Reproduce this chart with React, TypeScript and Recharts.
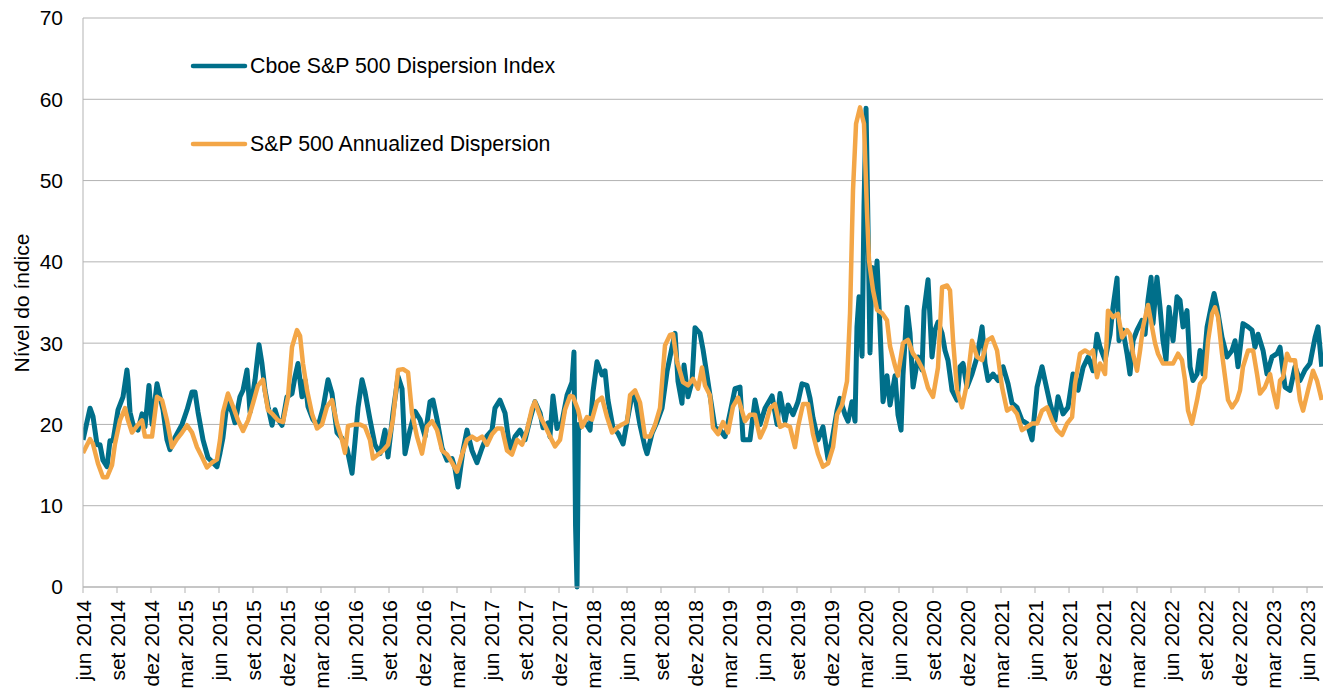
import React from 'react';
import { LineChart, Line, XAxis, YAxis, CartesianGrid, Legend } from 'recharts';

// x = months since June 2014, y = index level
const cboeDispersionIndex: [number, number][] = [
  [0,18.1],[0.62,22],[0.88,21],[1.24,17.5],[1.5,17.5],[1.76,15.6],[2.12,14.8],[2.38,18],[2.65,18],[3.09,21.8],[3.53,23.4],[3.88,26.7],[3.97,25.5],[4.15,21.5],[4.41,20],[4.85,19.3],[5.21,21.3],[5.47,19.7],[5.65,22.2],[5.82,24.8],[6.09,20],[6.53,25],[6.79,23.4],[7.06,21.8],[7.41,18.1],[7.68,16.9],[8.12,18.4],[8.74,20],[9.18,21.8],[9.62,24],[9.88,24],[10.15,21.5],[10.59,18.1],[11.03,15.9],[11.47,15.3],[11.82,14.8],[12.09,16.5],[12.35,18.4],[12.71,22.7],[13.15,21.5],[13.41,20.2],[13.85,23.4],[14.12,24.2],[14.47,26.7],[14.74,21.5],[15.18,25.5],[15.53,29.8],[15.79,27.5],[16.06,24.2],[16.32,22.2],[16.68,19.9],[16.94,21.8],[17.21,20.6],[17.56,19.9],[18.0,23.4],[18.44,23.8],[18.71,25.9],[18.97,27.5],[19.32,23.4],[19.59,25.5],[19.85,22.2],[20.29,20.6],[20.74,19.8],[21.18,22],[21.62,25.5],[21.97,23.8],[22.41,19],[22.85,18.3],[23.3,17],[23.74,14],[24.0,17.9],[24.27,22.1],[24.62,25.5],[24.88,24],[25.32,20.6],[25.76,17.5],[26.21,16.4],[26.65,19.3],[26.91,16],[27.35,21.4],[27.8,25.9],[28.15,24.4],[28.41,16.4],[28.85,19.3],[29.3,21.6],[29.74,20.6],[30.18,18.5],[30.62,22.8],[30.88,23],[31.24,20.6],[31.68,17.1],[32.12,15.6],[32.56,15.8],[32.82,14.6],[33.09,12.3],[33.53,16.8],[33.88,19.3],[34.32,16.8],[34.76,15.3],[35.21,17.1],[35.65,18.6],[36.09,19.3],[36.35,22],[36.79,23],[37.24,21.4],[37.68,16.8],[38.12,18.5],[38.56,19.3],[39.0,18.1],[39.44,20.6],[39.88,22.8],[40.33,21.4],[40.59,19.6],[41.03,20.2],[41.2,18.5],[41.47,23.5],[41.82,19.5],[42.26,20.3],[42.71,23.6],[43.15,25.2],[43.32,28.9],[43.46,7.5],[43.59,0],[43.72,20],[43.85,19.6],[44.29,20.3],[44.74,19.3],[45.0,24],[45.35,27.7],[45.79,26.1],[46.06,26.6],[46.32,23],[46.76,19.6],[47.21,18.9],[47.65,17.6],[48.0,20.3],[48.44,23.6],[48.71,23.4],[49.15,19.9],[49.59,17.2],[49.77,16.4],[50.21,18.9],[50.65,20.3],[51.09,22],[51.53,26.5],[51.97,29.5],[52.24,31.2],[52.5,25.3],[52.85,22.6],[53.03,27.3],[53.38,23.4],[53.74,25.3],[54.0,31.9],[54.44,31.2],[54.71,29.2],[55.06,26],[55.32,23.6],[55.76,19.6],[56.21,19.3],[56.65,18.5],[57.09,21.4],[57.53,24.4],[57.97,24.6],[58.24,18.1],[58.85,18.1],[59.29,23],[59.74,20],[60.18,22],[60.8,23.5],[61.24,20],[61.5,23.8],[61.94,20.4],[62.21,22.4],[62.65,21.2],[63.09,22.8],[63.44,25],[63.88,24.8],[64.15,23.2],[64.41,20.8],[64.85,18.1],[65.29,19.7],[65.74,15.7],[66.09,18.1],[66.53,21.7],[66.79,23.2],[67.24,21.2],[67.5,20.4],[67.85,22.8],[68.12,20.4],[68.29,32],[68.47,35.7],[68.74,28.4],[68.91,46.8],[69.09,58.9],[69.27,44],[69.44,28.8],[69.62,39.3],[69.88,35.7],[70.06,40.1],[70.32,32],[70.59,22.8],[70.94,26],[71.21,22.4],[71.65,26],[71.91,21.2],[72.18,19.3],[72.35,26],[72.71,34.4],[72.97,31.2],[73.24,24.6],[73.68,28.3],[74.03,26.7],[74.21,34],[74.56,37.8],[74.91,28.3],[75.18,31.6],[75.44,32.6],[75.8,31.2],[76.06,29.1],[76.32,27.9],[76.68,24.2],[77.12,23],[77.38,27.1],[77.65,27.5],[78.0,24.6],[78.44,26.2],[78.89,28.3],[79.33,32],[79.59,27.5],[79.86,25.4],[80.3,26.2],[80.74,25.4],[81.18,27.1],[81.62,25],[81.97,22.6],[82.41,22.1],[82.85,20.5],[83.3,20.1],[83.74,18.1],[84.18,24.6],[84.62,27.1],[84.88,25.4],[85.32,22.6],[85.76,20.5],[86.03,23.4],[86.47,21.3],[86.91,22.1],[87.35,26.2],[87.8,24.2],[88.24,27],[88.68,28.3],[89.12,26.6],[89.47,31.1],[89.74,29.5],[90.18,27.9],[90.62,31.1],[90.88,34.4],[91.24,38],[91.41,30.3],[91.76,31.6],[92.12,28.7],[92.38,26.2],[92.65,30.3],[93.0,31.6],[93.44,32.8],[93.71,31.1],[93.97,35.3],[94.24,38.1],[94.41,32.4],[94.76,38.1],[95.03,34.4],[95.29,30.3],[95.56,27.9],[95.82,34.4],[96.18,30.3],[96.53,35.7],[96.79,35.3],[97.06,32],[97.41,34],[97.68,27.1],[97.94,25.4],[98.3,26.2],[98.56,29.1],[98.82,26.2],[99.18,32],[99.53,34.4],[99.8,36.1],[100.06,34.4],[100.5,30.7],[100.94,28.3],[101.38,29.1],[101.65,30.3],[101.91,27.1],[102.35,32.4],[102.8,32],[103.15,31.6],[103.41,29.5],[103.68,31.1],[104.12,29.1],[104.47,26.2],[104.91,28.3],[105.35,28.7],[105.62,29.5],[106.06,24.6],[106.5,24.2],[106.94,27.1],[107.38,25.4],[107.82,26.7],[108.26,27.5],[108.71,30.7],[108.97,32],[109.3,27.1]
];

const sp500AnnualizedDispersion: [number, number][] = [
  [0,16.5],[0.62,18.2],[0.88,17.6],[1.32,15.2],[1.76,13.5],[2.12,13.5],[2.56,15],[2.82,17.6],[3.26,20.5],[3.71,22],[3.97,20.5],[4.32,19],[4.76,19.8],[5.21,20.5],[5.47,18.5],[6.09,18.5],[6.53,23.4],[6.97,23],[7.41,20.5],[7.85,17.2],[8.29,18.2],[8.74,19],[9.18,19.9],[9.62,19],[10.06,17.2],[10.5,16],[10.94,14.7],[11.38,15.3],[11.82,15.7],[12.09,18.1],[12.35,21.5],[12.79,23.8],[13.24,22.2],[13.68,20.5],[14.12,19.2],[14.56,20.5],[15.0,22.6],[15.44,24.8],[15.88,25.5],[16.32,21.8],[16.77,21.2],[17.21,20.5],[17.65,20.3],[18.09,23.4],[18.44,29.5],[18.88,31.6],[19.15,30.9],[19.41,27.5],[19.77,24.2],[20.21,21.3],[20.65,19.5],[21.09,20],[21.53,22.2],[21.97,23],[22.41,20.1],[22.85,18.1],[23.12,16.5],[23.38,19.8],[24.0,20],[24.44,20],[24.88,19.7],[25.32,18.1],[25.59,15.8],[26.03,16.3],[26.47,16.8],[26.91,17.5],[27.35,20.6],[27.8,26.7],[28.24,26.8],[28.68,26.4],[29.03,21.4],[29.47,18.5],[29.91,16.4],[30.35,19.7],[30.8,20.4],[31.24,19.3],[31.68,16.8],[32.12,16.3],[32.56,15.3],[33.0,14.2],[33.44,16.3],[33.88,18.1],[34.32,18.5],[34.76,18.1],[35.21,18.5],[35.65,17.5],[36.09,18.8],[36.53,19.5],[36.97,19.5],[37.41,16.8],[37.85,16.3],[38.3,18.1],[38.74,17.5],[39.18,19.3],[39.62,22],[39.88,22.8],[40.33,21],[40.77,19.8],[41.21,18.5],[41.65,17.3],[42.09,18.1],[42.53,21.8],[42.97,23.5],[43.24,23.4],[43.68,21.8],[44.03,19.7],[44.47,20.9],[44.91,20.6],[45.35,22.8],[45.79,23.3],[46.24,20.9],[46.68,19],[47.12,19.6],[47.56,20],[48.0,20.3],[48.27,23.6],[48.71,24.2],[49.15,22.7],[49.59,18.5],[50.03,18.5],[50.47,19.9],[50.91,22],[51.35,29.7],[51.79,31],[52.06,31.1],[52.41,27.7],[52.68,26.5],[52.94,25.2],[53.38,24.8],[53.82,25.6],[54.27,24.4],[54.62,27],[54.88,24.8],[55.32,23.6],[55.59,19.6],[56.03,18.8],[56.47,20.3],[56.91,19],[57.35,22.2],[57.8,23.3],[58.41,20.4],[58.85,21.2],[59.29,21.2],[59.74,18.4],[60.18,19.7],[60.62,22],[61.06,22.5],[61.5,19.7],[61.94,20],[62.38,19.7],[62.82,17.2],[63.09,19.7],[63.53,22.5],[63.97,22.5],[64.41,18.8],[64.85,16.4],[65.29,14.8],[65.74,15.2],[66.18,17.2],[66.53,21.2],[66.97,22.4],[67.41,25.3],[67.68,33.7],[67.94,48.8],[68.21,57],[68.56,59],[68.91,57],[69.18,46],[69.35,40.2],[69.71,36.5],[70.06,34.1],[70.5,33.7],[70.94,32.8],[71.21,29.6],[71.65,27.2],[71.91,26],[72.35,30],[72.79,30.4],[73.24,28.7],[73.68,27.9],[74.12,26.7],[74.56,24.5],[75.0,23.4],[75.44,27],[75.8,36.9],[76.24,37.1],[76.5,36.5],[76.77,30.3],[77.12,24.2],[77.56,22.1],[78.0,25],[78.44,30.3],[78.89,28.3],[79.33,27.9],[79.77,30.3],[80.21,30.7],[80.65,29.1],[81.09,24.6],[81.53,21.7],[81.97,22.1],[82.41,21.3],[82.85,19.3],[83.3,19.7],[83.74,20.1],[84.18,20.1],[84.62,21.7],[85.06,22.1],[85.5,20.5],[85.94,19.3],[86.38,18.7],[86.82,20.1],[87.27,20.9],[87.53,25],[87.97,28.7],[88.41,29.1],[88.85,28.7],[89.12,29.1],[89.47,25.8],[89.74,27.5],[90.18,26.2],[90.44,34],[90.88,33.2],[91.32,33.6],[91.68,30.7],[92.12,31.6],[92.38,31.1],[92.65,28.7],[93.0,26.6],[93.27,29.1],[93.53,32],[93.97,34.7],[94.32,32],[94.59,30],[94.85,28.7],[95.29,27.5],[95.74,27.5],[96.18,27.5],[96.62,28.7],[96.97,27.9],[97.24,25.4],[97.5,21.7],[97.85,20.1],[98.3,23],[98.56,25],[99.0,25.8],[99.27,30.3],[99.62,33.6],[99.88,34.4],[100.15,33.2],[100.5,28.7],[100.77,25.8],[101.03,23],[101.38,22.1],[101.82,23],[102.09,24.2],[102.35,27.1],[102.8,29.1],[103.24,29.1],[103.59,26.2],[103.85,23.8],[104.29,24.6],[104.74,26.2],[105.0,24.2],[105.35,22.1],[105.62,25.4],[105.88,25.8],[106.24,28.7],[106.5,27.9],[106.94,27.9],[107.38,23],[107.65,21.7],[108.09,24.2],[108.53,26.6],[108.88,25.4],[109.3,23]
];

const xTickLabels: string[] = [
  'jun 2014','set 2014','dez 2014','mar 2015','jun 2015','set 2015','dez 2015','mar 2016',
  'jun 2016','set 2016','dez 2016','mar 2017','jun 2017','set 2017','dez 2017','mar 2018',
  'jun 2018','set 2018','dez 2018','mar 2019','jun 2019','set 2019','dez 2019','mar 2020',
  'jun 2020','set 2020','dez 2020','mar 2021','jun 2021','set 2021','dez 2021','mar 2022',
  'jun 2022','set 2022','dez 2022','mar 2023','jun 2023'
];
const xTickMonths: number[] = xTickLabels.map((_, i) => i * 3);
const yTicks: number[] = [0, 10, 20, 30, 40, 50, 60, 70];

const seriesNames = ['Cboe S&P 500 Dispersion Index', 'S&P 500 Annualized Dispersion'];
const seriesColors = ['#006F8A', '#F3A647'];
const yAxisTitle = 'Nível do índice';

const FONT = '"Liberation Sans", Arial, Helvetica, sans-serif';
const GRID = '#B3B3B3';

const tealData = cboeDispersionIndex.map(([t, v]) => ({ t, v }));
const orangeData = sp500AnnualizedDispersion.map(([t, v]) => ({ t, v }));

const XTick = (props: any) => {
  const { x, y, payload } = props;
  const idx = Math.round(payload.value / 3);
  return (
    <g transform={`translate(${x},${y})`}>
      <text
        transform="rotate(-90)"
        x={-5}
        y={0}
        textAnchor="end"
        dominantBaseline="central"
        fontSize={21}
        fontFamily={FONT}
        fill="#000"
      >
        {xTickLabels[idx]}
      </text>
    </g>
  );
};

const renderLegend = () => (
  <div style={{ fontFamily: FONT, fontSize: 21.3, color: '#000' }}>
    {seriesNames.map((name, i) => (
      <div
        key={name}
        style={{
          display: 'flex',
          alignItems: 'center',
          height: 24,
          marginBottom: i === 0 ? 54 : 0,
          whiteSpace: 'nowrap',
        }}
      >
        <svg width={58} height={8} style={{ display: 'block' }}>
          <line x1={3} y1={4} x2={55} y2={4} stroke={seriesColors[i]} strokeWidth={4.5} strokeLinecap="round" />
        </svg>
        <span style={{ marginLeft: 2, lineHeight: '24px' }}>{name}</span>
      </div>
    ))}
  </div>
);

export default function App() {
  return (
    <div style={{ position: 'absolute', left: 0, top: 0, width: 1324, height: 688, background: '#fff' }}>
      <LineChart
        width={1324}
        height={688}
        margin={{ top: 18, right: 1, left: 0, bottom: 0 }}
        style={{ fontFamily: FONT }}
      >
        <CartesianGrid vertical={false} stroke={GRID} strokeWidth={1} />
        <XAxis
          type="number"
          dataKey="t"
          domain={[0, 109.41]}
          ticks={xTickMonths}
          interval={0}
          allowDataOverflow
          height={101}
          tick={<XTick />}
          tickSize={6}
          tickMargin={2}
          tickLine={{ stroke: GRID }}
          axisLine={{ stroke: GRID }}
        />
        <YAxis
          type="number"
          domain={[0, 70]}
          ticks={yTicks}
          interval={0}
          width={83}
          tickLine={false}
          tickSize={6}
          tickMargin={14}
          axisLine={{ stroke: GRID }}
          tick={{ fontSize: 21, fill: '#000', fontFamily: FONT }}
          label={{
            content: () => (
              <text
                transform="translate(29,303) rotate(-90)"
                x={0}
                y={0}
                textAnchor="middle"
                fontSize={21}
                fontFamily={FONT}
                fill="#000"
              >
                {yAxisTitle}
              </text>
            ),
          }}
        />
        <Legend
          layout="vertical"
          align="center"
          verticalAlign="middle"
          wrapperStyle={{ position: 'absolute', left: 190, top: 54, width: 520, height: 110 }}
          content={renderLegend}
        />
        <Line
          data={tealData}
          dataKey="v"
          name={seriesNames[0]}
          type="linear"
          stroke={seriesColors[0]}
          strokeWidth={5}
          strokeLinejoin="round"
          dot={false}
          activeDot={false}
          isAnimationActive={false}
        />
        <Line
          data={orangeData}
          dataKey="v"
          name={seriesNames[1]}
          type="linear"
          stroke={seriesColors[1]}
          strokeWidth={4.5}
          strokeLinejoin="round"
          dot={false}
          activeDot={false}
          isAnimationActive={false}
        />
      </LineChart>
    </div>
  );
}
